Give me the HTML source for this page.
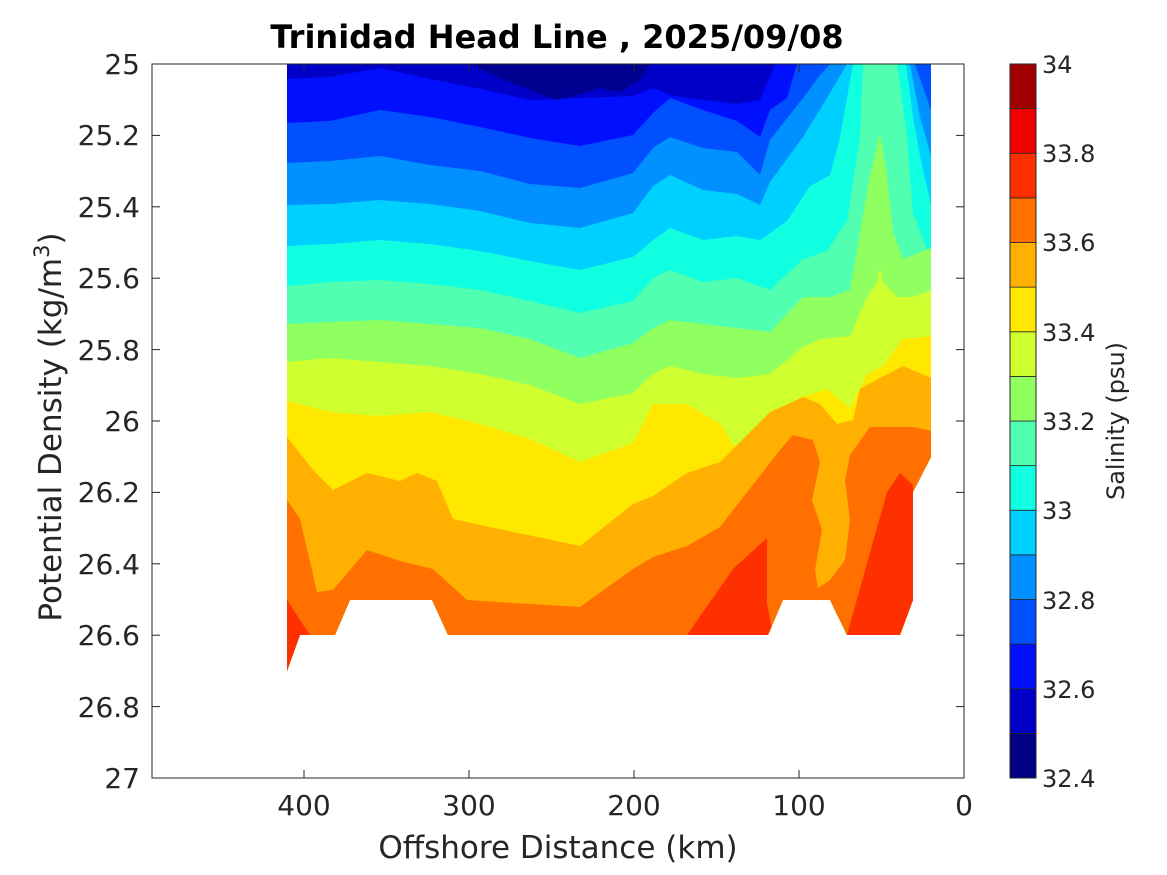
<!DOCTYPE html>
<html><head><meta charset="utf-8"><style>
html,body{margin:0;padding:0;background:#fff;}
svg{display:block;font-family:"DejaVu Sans","Liberation Sans",sans-serif;}
</style></head><body>
<svg width="1167" height="875" viewBox="0 0 1167 875" xmlns="http://www.w3.org/2000/svg">
<defs>
<clipPath id="dc"><polygon points="287,64 931,64 931,457 913,492 913,600 900,635 847,635 830,600 783,600 768,635 448,635 432,600 350,600 335,635 300,635 287,671"/></clipPath>
</defs>
<rect x="152" y="64" width="812" height="714" fill="#fff"/>
<g clip-path="url(#dc)">
<rect x="280" y="60" width="660" height="640" fill="#0000c8"/>
<polygon fill="#0010ff" points="287,79 330,77 380,68 430,79 480,89 530,100 580,98 633,96 653,88 670,95 703,100 737,104 760,100 775,64 931,64 931,700 287,700"/>
<polygon fill="#000090" points="470,64 500,78 530,90 557,100 580,94 600,88 620,92 640,80 650,64"/>
<polygon fill="#0050ff" points="287,123 330,121 380,110 430,117 480,127 530,138 580,146 633,135 653,113 670,98 703,110 737,121 760,137 770,110 787,98 797,64 931,64 931,700 287,700"/>
<polygon fill="#0090ff" points="287,163 330,161 380,156 430,165 480,171 530,184 580,188 633,173 653,148 670,137 703,148 737,152 760,175 770,140 803,98 820,75 830,64 915,64 931,110 931,700 287,700"/>
<polygon fill="#00d0ff" points="287,205 330,204 380,200 430,204 480,211 530,223 580,228 633,213 653,186 670,175 703,190 737,194 760,205 770,182 803,137 827,98 847,64 910,64 920,117 931,156 931,700 287,700"/>
<polygon fill="#10ffe0" points="287,246 330,244 380,240 430,244 480,251 530,261 580,270 633,257 653,240 670,228 703,240 737,236 760,240 787,221 810,186 830,175 840,137 853,64 906,64 913,117 920,156 931,205 931,700 287,700"/>
<polygon fill="#50ffb0" points="287,286 330,282 380,280 430,284 480,290 530,301 580,313 633,301 653,278 670,270 703,282 737,278 770,290 803,259 827,251 847,221 860,137 863,64 897,64 907,137 913,213 931,259 931,700 287,700"/>
<polygon fill="#90ff60" points="287,324 330,322 380,320 430,324 480,328 530,339 580,358 633,343 653,328 670,320 703,324 737,328 770,332 803,297 830,297 850,290 870,175 880,133 887,175 893,232 903,259 931,248 931,700 287,700"/>
<polygon fill="#d0ff30" points="287,362 330,358 380,362 430,366 480,374 530,385 580,404 633,393 653,374 670,366 703,374 737,378 770,374 803,347 820,339 850,336 867,297 877,282 880,267 883,282 897,297 913,297 931,290 931,700 287,700"/>
<polygon fill="#ffe800" points="287,401 330,412 380,416 430,412 480,424 530,439 580,462 633,443 653,404 687,404 720,424 737,450 770,427 803,397 827,389 850,408 867,374 883,366 903,339 931,336 931,700 287,700"/>
<polygon fill="#ffb000" points="287,437 313,470 333,490 367,473 400,481 417,473 437,481 453,519 480,525 580,546 633,504 653,496 687,473 720,462 770,412 803,397 820,404 837,424 853,420 860,389 880,378 903,366 931,378 931,700 287,700"/>
<polygon fill="#ff7000" points="287,500 300,519 317,592 333,590 367,550 400,561 433,569 467,600 513,603 580,607 633,569 653,557 687,546 720,527 780,450 793,435 813,440 820,462 812,500 822,530 815,570 818,588 830,580 845,560 850,520 845,480 850,455 870,427 913,427 931,431 931,700 287,700"/>
<polygon fill="#ff3000" points="687,635 733,569 767,538 767,603 773,635"/>
<polygon fill="#ff3000" points="847,635 887,492 900,473 913,485 913,603 903,635"/>
<polygon fill="#ff3000" points="287,600 310,635 287,680"/>
</g>
<rect x="152" y="64" width="812" height="714" fill="none" stroke="#262626" stroke-width="1"/>
<g stroke="#262626" stroke-width="1">
<line x1="152" y1="135.4" x2="160" y2="135.4"/><line x1="956" y1="135.4" x2="964" y2="135.4"/>
<line x1="152" y1="206.8" x2="160" y2="206.8"/><line x1="956" y1="206.8" x2="964" y2="206.8"/>
<line x1="152" y1="278.2" x2="160" y2="278.2"/><line x1="956" y1="278.2" x2="964" y2="278.2"/>
<line x1="152" y1="349.6" x2="160" y2="349.6"/><line x1="956" y1="349.6" x2="964" y2="349.6"/>
<line x1="152" y1="421" x2="160" y2="421"/><line x1="956" y1="421" x2="964" y2="421"/>
<line x1="152" y1="492.4" x2="160" y2="492.4"/><line x1="956" y1="492.4" x2="964" y2="492.4"/>
<line x1="152" y1="563.8" x2="160" y2="563.8"/><line x1="956" y1="563.8" x2="964" y2="563.8"/>
<line x1="152" y1="635.2" x2="160" y2="635.2"/><line x1="956" y1="635.2" x2="964" y2="635.2"/>
<line x1="152" y1="706.6" x2="160" y2="706.6"/><line x1="956" y1="706.6" x2="964" y2="706.6"/>
<line x1="304" y1="778" x2="304" y2="770"/><line x1="304" y1="64" x2="304" y2="72"/>
<line x1="469" y1="778" x2="469" y2="770"/><line x1="469" y1="64" x2="469" y2="72"/>
<line x1="634" y1="778" x2="634" y2="770"/><line x1="634" y1="64" x2="634" y2="72"/>
<line x1="799" y1="778" x2="799" y2="770"/><line x1="799" y1="64" x2="799" y2="72"/>
</g>
<g fill="#262626" font-size="28" text-anchor="end">
<text x="140" y="74">25</text>
<text x="140" y="145">25.2</text>
<text x="140" y="217">25.4</text>
<text x="140" y="288">25.6</text>
<text x="140" y="360">25.8</text>
<text x="140" y="431">26</text>
<text x="140" y="502">26.2</text>
<text x="140" y="574">26.4</text>
<text x="140" y="645">26.6</text>
<text x="140" y="717">26.8</text>
<text x="140" y="788">27</text>
</g>
<g fill="#262626" font-size="28" text-anchor="middle">
<text x="304" y="815">400</text>
<text x="469" y="815">300</text>
<text x="634" y="815">200</text>
<text x="799" y="815">100</text>
<text x="964" y="815">0</text>
<text x="558" y="858" font-size="31">Offshore Distance (km)</text>
</g>
<text x="0" y="0" transform="translate(61,427) rotate(-90)" font-size="31" fill="#262626" text-anchor="middle">Potential Density (kg/m<tspan font-size="21" dy="-12">3</tspan><tspan dy="12">)</tspan></text>
<text x="557" y="48" font-size="32" font-weight="bold" text-anchor="middle" fill="#000">Trinidad Head Line , 2025/09/08</text>
<g stroke="#262626" stroke-width="0.8">
<rect x="1010" y="733.375" width="26" height="44.625" fill="#000080"/>
<rect x="1010" y="688.75" width="26" height="44.625" fill="#0000c8"/>
<rect x="1010" y="644.125" width="26" height="44.625" fill="#0010ff"/>
<rect x="1010" y="599.5" width="26" height="44.625" fill="#0050ff"/>
<rect x="1010" y="554.875" width="26" height="44.625" fill="#0090ff"/>
<rect x="1010" y="510.25" width="26" height="44.625" fill="#00d0ff"/>
<rect x="1010" y="465.625" width="26" height="44.625" fill="#10ffe0"/>
<rect x="1010" y="421" width="26" height="44.625" fill="#50ffb0"/>
<rect x="1010" y="376.375" width="26" height="44.625" fill="#90ff60"/>
<rect x="1010" y="331.75" width="26" height="44.625" fill="#d0ff30"/>
<rect x="1010" y="287.125" width="26" height="44.625" fill="#ffe800"/>
<rect x="1010" y="242.5" width="26" height="44.625" fill="#ffb000"/>
<rect x="1010" y="197.875" width="26" height="44.625" fill="#ff7000"/>
<rect x="1010" y="153.25" width="26" height="44.625" fill="#ff3000"/>
<rect x="1010" y="108.625" width="26" height="44.625" fill="#f00000"/>
<rect x="1010" y="64" width="26" height="44.625" fill="#a00000"/>
</g>
<rect x="1010" y="64" width="26" height="714" fill="none" stroke="#262626" stroke-width="1"/>
<g fill="#262626" font-size="24">
<text x="1042" y="73">34</text>
<text x="1042" y="162">33.8</text>
<text x="1042" y="251">33.6</text>
<text x="1042" y="341">33.4</text>
<text x="1042" y="430">33.2</text>
<text x="1042" y="519">33</text>
<text x="1042" y="609">32.8</text>
<text x="1042" y="698">32.6</text>
<text x="1042" y="787">32.4</text>
</g>
<text x="0" y="0" transform="translate(1124,421) rotate(-90)" font-size="24" fill="#262626" text-anchor="middle">Salinity (psu)</text>
</svg>
</body></html>
